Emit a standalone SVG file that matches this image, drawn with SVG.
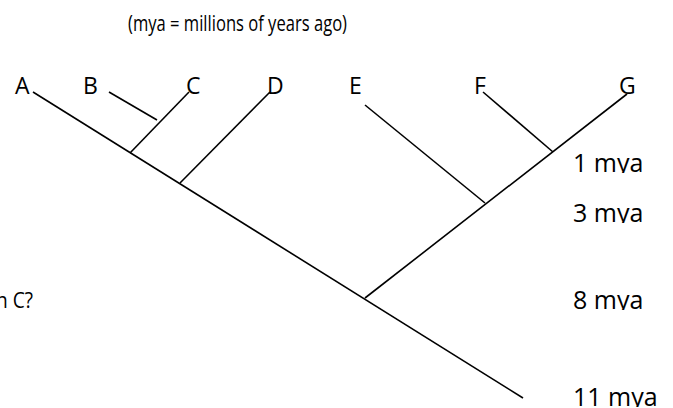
<svg xmlns="http://www.w3.org/2000/svg" width="673" height="408" viewBox="0 0 673 408">
  <style>
    .lbl { font-family: "Open Sans", "Noto Sans", sans-serif; fill: #000; }
    .tip { font-size: 23px; }
    .age { font-size: 25px; }
    .note { font-size: 21px; }
    .br { stroke: #000; stroke-width: 1.6; fill: none; stroke-linecap: butt; }
  </style>
  <defs>
    <!-- age labels sit in boxes that cut off the descenders -->
    <clipPath id="clip-age1"><rect x="560" y="140" width="113" height="33"/></clipPath>
    <clipPath id="clip-age3"><rect x="560" y="190" width="113" height="33"/></clipPath>
    <clipPath id="clip-age8"><rect x="560" y="278" width="113" height="32"/></clipPath>
    <clipPath id="clip-age11"><rect x="560" y="375" width="113" height="32"/></clipPath>
  </defs>

  <rect width="673" height="408" fill="#fff"/>

  <text class="lbl note" x="128" y="31" textLength="219" lengthAdjust="spacingAndGlyphs">(mya = millions of years ago)</text>
  <text class="lbl note" x="-4" y="308" textLength="37" lengthAdjust="spacingAndGlyphs">n C?</text>

  <!-- tree branches -->
  <g id="branches">
    <line class="br" x1="33" y1="92" x2="523" y2="398"/>
    <line class="br" x1="130" y1="153" x2="189" y2="92"/>
    <line class="br" x1="109" y1="92" x2="157" y2="120"/>
    <line class="br" x1="180" y1="183" x2="270" y2="92"/>
    <line class="br" x1="365" y1="298" x2="627" y2="94"/>
    <line class="br" x1="365" y1="105" x2="485" y2="203"/>
    <line class="br" x1="483" y1="92" x2="553" y2="152"/>
  </g>

  <!-- taxa -->
  <g id="taxon-A"><text class="lbl tip" x="15" y="94">A</text></g>
  <g id="taxon-B"><text class="lbl tip" x="83" y="94">B</text></g>
  <g id="taxon-C"><text class="lbl tip" x="186" y="94">C</text></g>
  <g id="taxon-D"><text class="lbl tip" x="267" y="94">D</text></g>
  <g id="taxon-E"><text class="lbl tip" x="349" y="94">E</text></g>
  <g id="taxon-F"><text class="lbl tip" x="474" y="94">F</text></g>
  <g id="taxon-G"><text class="lbl tip" x="619" y="94">G</text></g>

  <!-- time scale -->
  <g id="age-1" clip-path="url(#clip-age1)"><text class="lbl age" x="573" y="172">1 mya</text></g>
  <g id="age-3" clip-path="url(#clip-age3)"><text class="lbl age" x="573" y="222">3 mya</text></g>
  <g id="age-8" clip-path="url(#clip-age8)"><text class="lbl age" x="573" y="309">8 mya</text></g>
  <g id="age-11" clip-path="url(#clip-age11)"><text class="lbl age" x="573" y="406">11 mya</text></g>
</svg>
